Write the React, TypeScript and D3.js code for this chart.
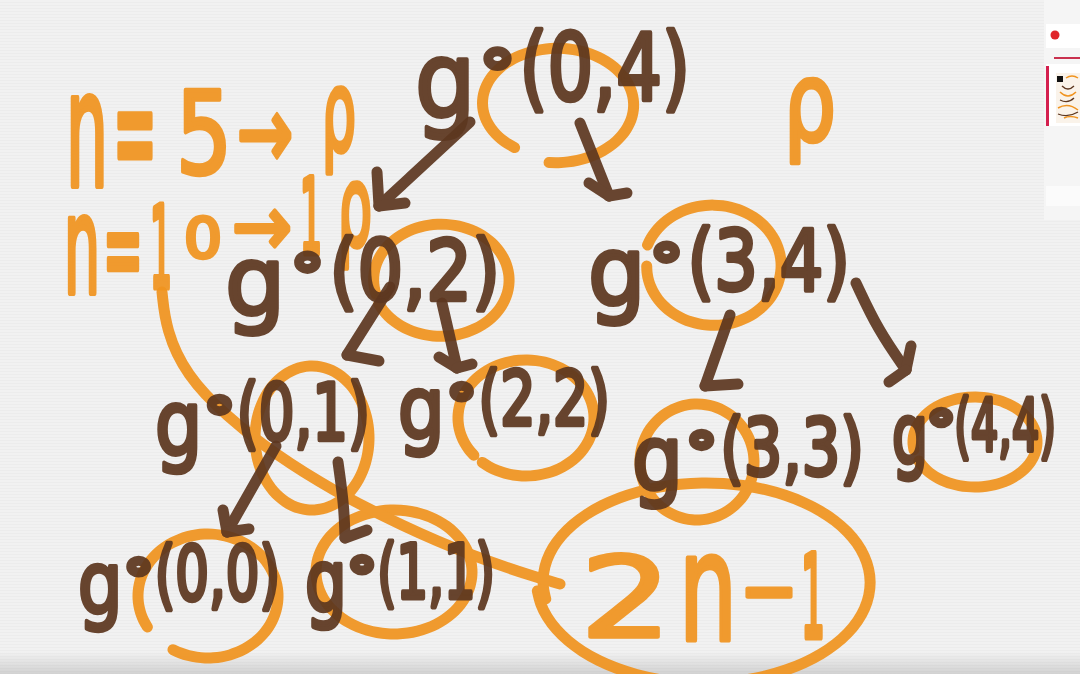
import { line, curveCatmullRom, curveBasis, range, sum } from 'd3';

// recursion tree g∘(l, r), drawn like a marker sketch
const nodeArgs = ['(0,4)', '(0,2)', '(3,4)', '(0,1)', '(2,2)', '(3,3)', '(4,4)', '(0,0)', '(1,1)'];
const nodeParent = [-1, 0, 0, 1, 1, 2, 2, 3, 3];

const firstNote = ['n', '=', '5', '→', 'ρ'];
const secondNote = ['n', '=', '1', '0', '→', '1', 'ρ'];
const sideNote = ['ρ'];
const totalCalls = ['2', 'n', '-', '1'];

const BROWN = '#5d3720';
const ORANGE = '#f09420';
const BG = '#f1f1f1';

// label boxes: left x, baseline y, width, font size
const LABEL_BOX: Array<[number, number, number, number]> = [
  [415, 100, 275, 92],
  [225, 300, 275, 84],
  [588, 290, 262, 84],
  [155, 440, 215, 78],
  [398, 425, 212, 74],
  [632, 475, 232, 78],
  [892, 450, 164, 72],
  [78, 600, 202, 74],
  [305, 598, 190, 74],
];

// glyphs of the orange notes: x, baseline, width, font size
const FIRST_BOX: Array<[number, number, number, number]> = [
  [66, 186, 42, 160],
  [113, 183, 44, 150],
  [176, 173, 56, 114],
  [237, 167, 56, 100],
  [322, 150, 34, 110],
];
const SECOND_BOX: Array<[number, number, number, number]> = [
  [64, 293, 36, 136],
  [103, 290, 40, 120],
  [150, 287, 22, 112],
  [184, 257, 38, 55],
  [232, 255, 60, 84],
  [300, 253, 22, 104],
  [338, 245, 34, 110],
];
const SIDE_BOX: Array<[number, number, number, number]> = [[784, 140, 52, 108]];
const TOTAL_BOX: Array<[number, number, number, number]> = [
  [580, 637, 92, 112],
  [679, 640, 58, 150],
  [740, 623, 58, 110],
  [801, 637, 24, 114],
];

// orange loops per node: cx, cy, rx, ry, start deg, sweep deg, growth
const LOOPS: Array<[number, number, number, number, number, number, number]> = [
  [556, 104, 76, 56, 125, 330, 0.1],
  [441, 280, 68, 56, 165, 350, 0.02],
  [713, 266, 68, 60, 200, 340, -0.05],
  [312, 438, 57, 72, 170, 360, 0.0],
  [526, 418, 68, 58, 140, 350, 0.0],
  [697, 462, 57, 58, 170, 360, 0.0],
  [975, 442, 62, 45, 170, 345, 0.0],
  [208, 596, 70, 62, 150, 330, 0.0],
  [394, 572, 78, 62, 170, 360, 0.0],
];
const TOTAL_LOOP: (typeof LOOPS)[number] = [705, 582, 165, 100, 170, 365, 0.04];

// brown arrows parent -> child: start, tip, wing offsets
const ARROWS: Array<{ from: [number, number]; to: [number, number]; mid?: [number, number]; wings: Array<[number, number]> }> = [
  { from: [470, 122], to: [379, 206], wings: [[-2, -34], [26, -3]] },
  { from: [580, 123], to: [609, 196], wings: [[-20, -13], [18, -3]] },
  { from: [390, 287], to: [347, 355], wings: [[32, 6]] },
  { from: [442, 303], to: [457, 368], wings: [[-18, -11], [15, -4]] },
  { from: [730, 315], to: [705, 386], wings: [[33, -2]] },
  { from: [856, 283], mid: [878, 330], to: [906, 370], wings: [[5, -24], [-17, 12]] },
  { from: [276, 446], to: [227, 532], wings: [[-4, -22], [22, -3]] },
  { from: [338, 462], mid: [344, 505], to: [345, 538], wings: [[22, -8]] },
];

const SWEEP: Array<[number, number]> = [
  [162, 292], [166, 330], [186, 375], [226, 416], [276, 455], [332, 490], [402, 526], [472, 556], [538, 578], [560, 584],
];

// DejaVu Sans advance widths, in em
const ADVANCE: Record<string, number> = {
  g: 0.635, n: 0.634, '(': 0.39, ')': 0.39, ',': 0.318, '=': 0.838, '→': 0.838, 'ρ': 0.635, '-': 0.361,
};
const advance = (s: string) => sum(Array.from(s), (c) => ADVANCE[c] ?? 0.636);

function loopPath([cx, cy, rx, ry, a0, sweep, growth]: (typeof LOOPS)[number]) {
  const steps = 48;
  const pts = range(steps + 1).map((i) => {
    const t = i / steps;
    const a = ((a0 + sweep * t) * Math.PI) / 180;
    const k = 1 + growth * (t - 0.5);
    return [cx + Math.cos(a) * rx * k, cy + Math.sin(a) * ry * k] as [number, number];
  });
  return line().curve(curveCatmullRom)(pts) ?? '';
}

const straight = line().curve(curveBasis);

// marker-like text fitted into a box: the font is sized to the width, then stretched about its baseline
function Marker({ text, x, y, w, fs, color }: { text: string; x: number; y: number; w: number; fs: number; color: string }) {
  const em = advance(text);
  const base = Math.min(fs, w / em);
  const sx = w / (em * base);
  const sy = fs / base;
  return (
    <text
      x={x}
      y={y}
      fontSize={base}
      fontFamily="DejaVu Sans"
      fill={color}
      stroke={color}
      strokeWidth={4 / Math.sqrt(sx * sy)}
      strokeLinejoin="round"
      strokeLinecap="round"
      transform={`matrix(${sx} 0 0 ${sy} ${x * (1 - sx)} ${y * (1 - sy)})`}
    >
      {text}
    </text>
  );
}

function Note({ parts, boxes, color }: { parts: string[]; boxes: Array<[number, number, number, number]>; color: string }) {
  return (
    <g opacity={0.93}>
      {parts.map((p, i) => {
        const [x, y, w, fs] = boxes[i];
        return <Marker key={i} text={p} x={x} y={y} w={w} fs={fs} color={color} />;
      })}
    </g>
  );
}

export default function App() {
  return (
    <svg
      width={1080}
      height={674}
      viewBox="0 0 1080 674"
      style={{ position: 'fixed', left: 0, top: 0, display: 'block' }}
    >
      <defs>
        <pattern id="grain" width="6" height="3" patternUnits="userSpaceOnUse">
          <rect width="6" height="3" fill={BG} />
          <rect y="2" width="6" height="1" fill="#e9e9e9" opacity="0.6" />
        </pattern>
        <linearGradient id="bottomShade" x1="0" y1="0" x2="0" y2="1">
          <stop offset="0" stopColor="#000" stopOpacity="0" />
          <stop offset="1" stopColor="#000" stopOpacity="0.13" />
        </linearGradient>
      </defs>
      <rect width={1080} height={674} fill="url(#grain)" />
      <rect y={652} width={1080} height={22} fill="url(#bottomShade)" />

      {/* side panel */}
      <g>
        <rect x={1044} y={0} width={36} height={220} fill="#f5f5f5" />
        <rect x={1046} y={24} width={34} height={24} fill="#fff" />
        <circle cx={1055} cy={35} r={4.5} fill="#e0262b" />
        <rect x={1054} y={57} width={26} height={2} fill="#c9314f" />
        <rect x={1046} y={64} width={34} height={62} fill="#fff" />
        <rect x={1046} y={66} width={3} height={60} fill="#d41f4e" />
        <rect x={1056} y={73} width={24} height={50} fill="#faf3ea" />
        <rect x={1057} y={76} width={6} height={6} fill="#111" />
        <path d="M1066 78 q6 -4 12 0 M1060 92 q8 8 16 0 M1058 108 q10 -6 20 2 M1064 118 q6 -3 14 0" stroke={ORANGE} strokeWidth={1.5} fill="none" />
        <path d="M1062 86 q6 6 12 0 M1060 100 q8 4 14 -2 M1058 114 q10 4 20 -2" stroke={BROWN} strokeWidth={1.3} fill="none" />
        <rect x={1046} y={186} width={34} height={20} fill="#fbfbfb" />
      </g>

      {/* orange layer */}
      <g fill="none" stroke={ORANGE} strokeWidth={11} strokeLinecap="round" strokeLinejoin="round" opacity={0.93}>
        {LOOPS.map((loop, i) => (
          <path key={`loop-${nodeArgs[i]}`} d={loopPath(loop)} />
        ))}
        <path d={loopPath(TOTAL_LOOP)} />
        <path d={straight(SWEEP) ?? ''} />
      </g>
      <Note parts={firstNote} boxes={FIRST_BOX} color={ORANGE} />
      <Note parts={secondNote} boxes={SECOND_BOX} color={ORANGE} />
      <Note parts={sideNote} boxes={SIDE_BOX} color={ORANGE} />
      <Note parts={totalCalls} boxes={TOTAL_BOX} color={ORANGE} />

      {/* brown layer: arrows */}
      <g fill="none" stroke={BROWN} strokeWidth={11} strokeLinecap="round" strokeLinejoin="round" opacity={0.92}>
        {ARROWS.map((a, i) => {
          const pts: Array<[number, number]> = a.mid ? [a.from, a.mid, a.to] : [a.from, a.to];
          return (
            <g key={`arrow-${nodeParent[i + 1]}-${i + 1}`}>
              <path d={straight(pts) ?? ''} />
              {a.wings.map(([dx, dy], j) => (
                <path key={j} d={`M${a.to[0]},${a.to[1]}L${a.to[0] + dx},${a.to[1] + dy}`} />
              ))}
            </g>
          );
        })}
      </g>

      {/* brown layer: node labels g∘(l,r) */}
      {nodeArgs.map((arg, i) => {
        const [x, y, w, fs] = LABEL_BOX[i];
        return (
          <g key={`node-${arg}`} opacity={0.93}>
            <ellipse
              cx={x + w * 0.3}
              cy={y - fs * 0.45}
              rx={fs * 0.1}
              ry={fs * 0.08}
              fill="none"
              stroke={BROWN}
              strokeWidth={10}
            />
            <Marker text="g" x={x} y={y + fs * 0.18} w={w * 0.22} fs={fs * 1.15} color={BROWN} />
            <Marker text={arg} x={x + w * 0.38} y={y} w={w * 0.62} fs={fs} color={BROWN} />
          </g>
        );
      })}
    </svg>
  );
}
